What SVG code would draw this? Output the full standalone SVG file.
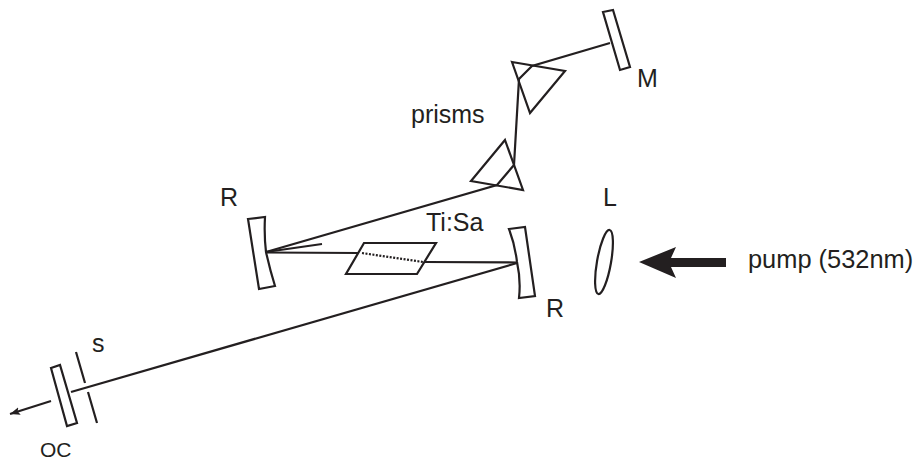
<svg xmlns="http://www.w3.org/2000/svg" width="916" height="460" viewBox="0 0 916 460">
<style>
.o{fill:#fff;stroke:#231f20;stroke-width:2.200;stroke-linejoin:miter}
.b{fill:none;stroke:#231f20;stroke-width:2.200}
text{font-family:"Liberation Sans",Arial,sans-serif;font-size:25px;fill:#231f20}
</style>
<defs><marker id="ah" markerUnits="userSpaceOnUse" markerWidth="12" markerHeight="8" refX="10" refY="4" orient="auto"><path d="M0,0L10,4L0,8L2,4Z" fill="#231f20"/></marker></defs>
<rect width="916" height="460" fill="#fff"/>
<g id="mirror-M"><path class="o" d="M603,12L613,10L630,67L620,70Z"/><text x="637" y="87">M</text></g>
<g id="prism-1"><path class="o" d="M512,62L565,71L530,113Z"/></g>
<g id="prism-2"><path class="o" d="M505,140L523,190L471,181Z"/></g>
<g id="mirror-R-left"><path class="o" d="M248,219L265,217Q264,235 266,252Q270,270 275,286L259,289Z"/><text x="220" y="206">R</text></g>
<g id="crystal"><path class="o" d="M364,243H436L417,274H346Z"/><text x="426" y="231">Ti:Sa</text></g>
<g id="mirror-R-right"><path class="o" d="M509,229L525,227L535,296L519,298Q521,280 517,262Q515,245 509,229Z"/><text x="546" y="317">R</text></g>
<g id="lens"><ellipse class="o" cx="604" cy="262" rx="7" ry="32.500" transform="rotate(10 604 262)"/><text x="603" y="206">L</text></g>
<g id="pump"><path d="M639,262L676,247L671,258H726V267H671L676,278Z" fill="#231f20"/><text x="748" y="268" style="font-size:25.400px">pump (532nm)</text></g>
<g id="oc"><path class="o" d="M51,368L60,365L77,423L67,426Z"/><text x="40" y="457" style="font-size:21px">OC</text></g>
<g id="slit"><path class="b" d="M76,352L85,383M88,392L97,423"/><text x="92" y="352">s</text></g>
<g id="prisms-label"><text x="411" y="123">prisms</text></g>
<g id="connectors">
<path class="b" d="M610,43L532,66L519,79L514,165L497,185L266,252"/>
<path class="b" d="M266,252L322,244"/>
<path class="b" d="M266,252.500L359,253"/>
<path d="M362,253L423,262" fill="none" stroke="#231f20" stroke-width="2.200" stroke-dasharray="2 1.500"/>
<path class="b" d="M425,262L517,262.500"/>
<path class="b" d="M517,263L71,392"/>
<path class="b" d="M51,401L10,414" marker-end="url(#ah)"/>
</g>
</svg>
